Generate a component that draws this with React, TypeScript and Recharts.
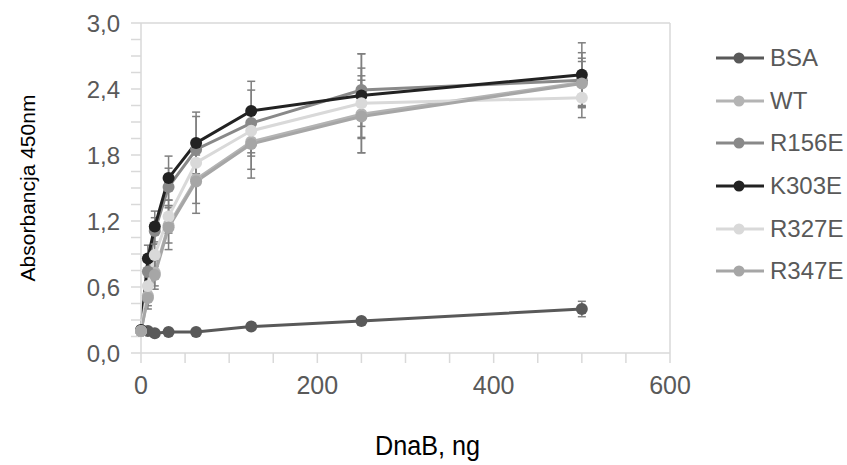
import React from 'react';
import { LineChart, Line, XAxis, YAxis, ErrorBar, ReferenceLine, Legend, Label } from 'recharts';

const DOSES = [0, 7.8125, 15.625, 31.25, 62.5, 125, 250, 500];

const BSA = [0.2, 0.2, 0.18, 0.19, 0.19, 0.24, 0.29, 0.4];
const WT = [0.2, 0.52, 0.73, 1.16, 1.58, 1.92, 2.17, 2.46];
const R156E = [0.2, 0.74, 1.11, 1.51, 1.85, 2.09, 2.39, 2.48];
const K303E = [0.21, 0.86, 1.15, 1.59, 1.91, 2.2, 2.34, 2.53];
const R327E = [0.2, 0.61, 0.89, 1.24, 1.73, 2.02, 2.27, 2.32];
const R347E = [0.2, 0.5, 0.71, 1.14, 1.56, 1.9, 2.15, 2.45];

const BSA_ERR = [0.03, 0.02, 0.02, 0.02, 0.02, 0.02, 0.03, 0.07];
const WT_ERR = [0.03, 0.09, 0.12, 0.16, 0.22, 0.25, 0.35, 0.22];
const R156E_ERR = [0.03, 0.1, 0.12, 0.17, 0.3, 0.3, 0.33, 0.25];
const K303E_ERR = [0.03, 0.12, 0.14, 0.2, 0.28, 0.27, 0.38, 0.29];
const R327E_ERR = [0.03, 0.08, 0.1, 0.15, 0.2, 0.2, 0.32, 0.18];
const R347E_ERR = [0.03, 0.1, 0.13, 0.2, 0.29, 0.31, 0.33, 0.2];

const X_TICKS = [0, 50, 100, 150, 200, 250, 300, 350, 400, 450, 500, 550, 600];
const X_LABELS = [0, 200, 400, 600];
const Y_TICKS = [0, 0.15, 0.3, 0.45, 0.6, 0.75, 0.9, 1.05, 1.2, 1.35, 1.5, 1.65, 1.8, 1.95, 2.1, 2.25, 2.4, 2.55, 2.7, 2.85, 3.0];
const Y_LABELS = [0, 0.6, 1.2, 1.8, 2.4, 3.0];

const series = [
  { key: 'BSA', values: BSA, err: BSA_ERR, color: '#595959' },
  { key: 'WT', values: WT, err: WT_ERR, color: '#b4b4b4' },
  { key: 'R156E', values: R156E, err: R156E_ERR, color: '#898989' },
  { key: 'K303E', values: K303E, err: K303E_ERR, color: '#222222' },
  { key: 'R327E', values: R327E, err: R327E_ERR, color: '#d9d9d9' },
  { key: 'R347E', values: R347E, err: R347E_ERR, color: '#a6a6a6' },
];

const data = DOSES.map((x, i) => {
  const row: any = { x };
  series.forEach(s => {
    row[s.key] = s.values[i];
    row[s.key + '_err'] = s.err[i];
  });
  return row;
});

const textColor = '#595959';
const axisColor = '#d9d9d9';
const font = '"Liberation Sans", Arial, sans-serif';

const XTick = ({ x, y, payload }: any) => {
  if (!X_LABELS.includes(payload.value)) return null;
  return (
    <text x={x} y={y} dy="0.71em" textAnchor="middle" fill={textColor} fontSize={25} fontFamily={font}>
      {payload.value}
    </text>
  );
};

const YTick = ({ x, y, payload }: any) => {
  if (!Y_LABELS.includes(payload.value)) return null;
  return (
    <text x={x} y={y} dy="0.36em" textAnchor="end" fill={textColor} fontSize={24} fontFamily={font}>
      {payload.value.toFixed(1).replace('.', ',')}
    </text>
  );
};

const LegendContent = () => (
  <div style={{ fontFamily: font, fontSize: 24, color: textColor }}>
    {series.map(s => (
      <div key={s.key} style={{ display: 'flex', alignItems: 'center', height: 42.6 }}>
        <svg width={54} height={14}>
          <line x1={0} y1={7} x2={48} y2={7} stroke={s.color} strokeWidth={3} />
          <circle cx={23} cy={7} r={5.5} fill={s.color} />
        </svg>
        <span>{s.key}</span>
      </div>
    ))}
  </div>
);

const XTitle = ({ viewBox }: any) => {
  const cx = viewBox.x + viewBox.width / 2 + 22;
  const cy = viewBox.y + viewBox.height - 10;
  return (
    <text x={cx} y={cy} textAnchor="middle" fill="#000" fontSize={27} fontFamily={font}
      textLength={105} lengthAdjust="spacingAndGlyphs">
      DnaB, ng
    </text>
  );
};

const YTitle = ({ viewBox }: any) => {
  const cx = viewBox.x + 27;
  const cy = viewBox.y + viewBox.height / 2;
  return (
    <text x={cx} y={cy} transform={`rotate(-90, ${cx}, ${cy})`} textAnchor="middle" dominantBaseline="central"
      fill="#000" fontSize={21} fontFamily={font}>
      Absorbancja 450nm
    </text>
  );
};

export default function App() {
  return (
    <div style={{ width: 847, height: 465, background: '#fff' }}>
      <style>{'body{margin:0}'}</style>
      <LineChart width={847} height={465} data={data} margin={{ top: 23, right: 47, left: 0, bottom: 0 }}>
        <XAxis
          dataKey="x"
          type="number"
          domain={[0, 600]}
          ticks={X_TICKS}
          interval={0}
          height={112}
          axisLine={{ stroke: axisColor, strokeWidth: 1.5 }}
          tickLine={{ stroke: axisColor, strokeWidth: 1.5 }}
          tickSize={10}
          tickMargin={13}
          tick={<XTick />}
        >
          <Label content={<XTitle />} />
        </XAxis>
        <YAxis
          type="number"
          domain={[0, 3]}
          ticks={Y_TICKS}
          interval={0}
          width={141}
          axisLine={{ stroke: axisColor, strokeWidth: 1.5 }}
          tickLine={{ stroke: axisColor, strokeWidth: 1.5 }}
          tickSize={10}
          tickMargin={11}
          tick={<YTick />}
        >
          <Label content={<YTitle />} />
        </YAxis>
        <ReferenceLine y={3} stroke={axisColor} strokeWidth={1.5} />
        <ReferenceLine x={600} stroke={axisColor} strokeWidth={1.5} />
        <Legend
          layout="vertical"
          verticalAlign="top"
          align="right"
          content={<LegendContent />}
          wrapperStyle={{ left: 716, top: 37, width: 130 }}
        />
        {series.map(s => (
          <Line
            key={s.key}
            dataKey={s.key}
            stroke={s.color}
            strokeWidth={3}
            dot={{ r: 6, fill: s.color, stroke: s.color, strokeWidth: 0 }}
            activeDot={false}
            isAnimationActive={false}
          >
            <ErrorBar dataKey={s.key + '_err'} direction="y" width={4} stroke="#7f7f7f" strokeWidth={1.5} />
          </Line>
        ))}
      </LineChart>
    </div>
  );
}
